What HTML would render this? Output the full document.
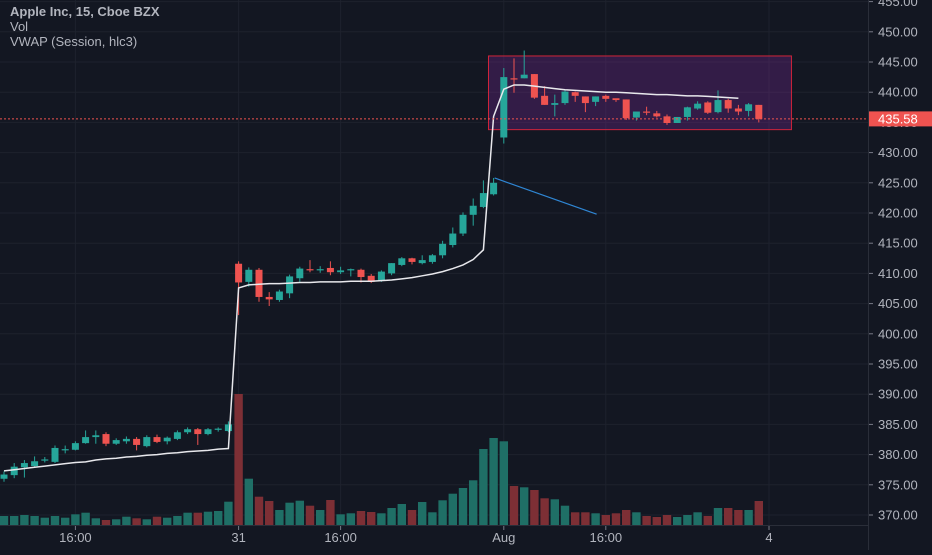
<!DOCTYPE html>
<html><head><meta charset="utf-8">
<style>
html,body{margin:0;padding:0;background:#131722;}
body{width:932px;height:550px;overflow:hidden;font-family:"Liberation Sans",sans-serif;}
svg text{font-family:"Liberation Sans",sans-serif;}
</style></head>
<body>
<svg id="chart" width="932" height="550" xmlns="http://www.w3.org/2000/svg">
<rect x="0" y="0" width="932" height="550" fill="#131722"/>
<g id="grid"></g>
<g id="box"></g>
<g id="vol"></g>
<g id="candles"></g>
<g id="vwap"></g>
<g id="trend"></g>
<g id="axes"></g>
<g>
<text x="10" y="16" fill="#b2b5be" font-size="13" font-weight="bold">Apple Inc, 15, Cboe BZX</text>
<text x="10" y="31" fill="#b2b5be" font-size="13">Vol</text>
<text x="10" y="46" fill="#b2b5be" font-size="13">VWAP (Session, hlc3)</text>
</g>
</svg>
<script>
const opens=[376.0,376.6,377.9,378.1,379.0,378.8,380.7,380.8,381.9,382.9,383.4,381.8,382.2,382.6,381.4,382.9,382.2,382.6,383.7,384.2,383.4,384.1,383.9,
411.6,408.6,410.6,406.1,405.6,406.7,409.2,410.7,410.5,410.9,410.2,410.5,410.6,409.6,408.8,410.0,411.4,412.5,411.7,411.9,413.0,414.7,416.6,419.7,421.0,423.1,
432.5,442.3,442.3,443.0,439.4,437.9,438.2,440.0,439.3,438.4,439.4,439.0,438.8,435.8,436.8,436.5,436.0,434.9,435.9,437.3,438.3,436.7,438.7,437.3,436.9,437.9];
const closes=[376.7,378.0,378.6,378.9,379.2,381.1,380.9,381.9,382.9,383.2,381.8,382.4,382.6,381.6,382.9,382.1,382.8,383.7,384.2,383.4,384.2,384.3,385.0,
408.5,410.6,406.1,405.7,407.0,409.5,410.8,410.5,410.7,410.2,410.5,410.7,409.4,408.6,410.3,411.7,412.5,411.9,412.2,413.0,414.9,416.6,419.7,421.2,423.3,425.0,
442.5,442.1,442.9,439.1,437.9,438.2,440.1,439.4,438.2,439.3,438.9,438.7,435.7,436.8,436.6,436.0,434.9,435.9,437.5,438.1,436.6,438.7,437.3,436.8,438.0,435.58];
const highs=[377.2,378.6,379.1,379.7,379.6,381.5,381.5,382.2,384.0,384.0,383.7,382.7,383.0,382.9,383.2,383.3,383.0,384.0,384.5,384.4,384.4,384.5,385.5,
412.0,411.0,410.9,406.9,407.3,409.8,411.1,412.2,411.2,412.0,411.1,410.8,410.8,409.9,410.5,411.7,412.7,412.6,413.0,413.2,415.4,417.6,420.1,422.4,425.4,425.8,
444.0,445.6,446.9,443.0,441.0,439.6,440.4,440.1,439.3,439.3,439.6,438.9,438.8,435.8,437.6,436.9,436.3,435.9,437.6,438.5,438.5,440.3,438.9,437.9,438.2,437.9];
const lows=[375.5,376.1,376.2,378.0,378.7,378.6,380.2,380.7,381.8,381.8,381.4,381.6,381.8,380.7,381.2,381.9,381.7,382.4,383.4,381.6,383.2,383.8,383.7,
403.1,407.8,405.3,404.6,405.3,405.9,408.6,410.2,410.1,409.7,409.9,409.5,408.5,408.4,408.6,409.7,411.2,411.5,411.5,411.6,412.5,414.3,416.2,417.9,420.8,422.9,
431.5,439.9,442.3,438.9,437.9,436.0,437.9,438.4,436.7,437.7,438.4,438.4,435.4,435.3,436.2,435.8,434.6,435.2,435.3,437.1,436.4,436.5,436.6,436.2,436.0,435.0];
const volumes=[90,90,100,90,73,90,73,107,123,67,50,57,83,67,57,83,73,90,123,123,133,140,233,
1310,463,283,240,150,223,243,193,150,250,107,117,140,130,117,170,210,150,230,127,247,313,370,447,760,870,
837,390,377,350,267,257,193,127,127,117,100,117,150,127,90,80,100,80,100,127,90,170,170,150,150,240];
const vwapVals=[377.3,377.5,377.7,377.9,378.1,378.3,378.5,378.7,378.8,379.1,379.3,379.4,379.6,379.7,379.9,380.0,380.2,380.3,380.5,380.6,380.7,380.9,381.0,
407.6,408.1,408.2,408.3,408.3,408.4,408.5,408.5,408.6,408.6,408.6,408.7,408.7,408.7,408.8,408.9,409.1,409.3,409.6,409.9,410.3,410.8,411.4,412.3,413.9,
436.0,440.5,441.2,441.2,441.0,440.8,440.6,440.4,440.3,440.2,440.1,440.0,440.0,439.9,439.8,439.7,439.6,439.6,439.5,439.4,439.4,439.3,439.2,439.1,439.0];
const priceTicks=[370,375,380,385,390,395,400,405,410,415,420,425,430,435,440,445,450,455];
const timeLabels=["16:00","31","16:00","Aug","16:00","4"];
const timeIdx=[7,23,33,49,59,75];
const lastPrice=435.58;
const boxPrices=[446.0,433.8];
const boxIdx=[47.5,77.2];
const trendPrices=[425.8,419.8];
const trendIdx=[48.1,58.1];

const NS="http://www.w3.org/2000/svg";
const xOf=i=>4+i*10.2;
const yOf=p=>515-(p-370)*6.04;
const volH=v=>v*0.1;
const BASE=525;
function mk(tag,attrs,parent){const e=document.createElementNS(NS,tag);for(const k in attrs)e.setAttribute(k,attrs[k]);parent.appendChild(e);return e;}
const G=id=>document.getElementById(id);

// grid
priceTicks.forEach(p=>{
 const l=mk('line',{x1:0,x2:868,y1:yOf(p),y2:yOf(p),stroke:'#1e222d','stroke-width':1},G('grid'));
 
 
});
timeIdx.forEach(i=>{
 const l=mk('line',{x1:xOf(i),x2:xOf(i),y1:0,y2:525,stroke:'#1e222d','stroke-width':1},G('grid'));
 
 
});

// box
{
 const x1=xOf(boxIdx[0]),x2=xOf(boxIdx[1]),y1=yOf(boxPrices[0]),y2=yOf(boxPrices[1]);
 const r=mk('rect',{x:x1,y:y1,width:x2-x1,height:y2-y1,fill:'rgba(120,40,150,0.32)',stroke:'#d0243a','stroke-width':1},G('box'));
 
 
}

// volume
volumes.forEach((v,i)=>{
 const up=closes[i]>=opens[i];
 const h=volH(v);
 const r=mk('rect',{x:xOf(i)-4.2,y:BASE-h,width:8.4,height:h,fill:up?'#1f6f66':'#7d2f35'},G('vol'));
 
 
});

// last price dashed line
{
 const l=mk('line',{x1:0,x2:868,y1:yOf(lastPrice),y2:yOf(lastPrice),stroke:'#ef5350','stroke-width':1,'stroke-dasharray':'2,2'},G('axes'));
 
 
}

// candles
opens.forEach((o,i)=>{
 const c=closes[i],up=c>=o,col=up?'#26a69a':'#ef5350';
 const g=mk('g',{},G('candles'));
 
 
 const x=xOf(i);
 mk('line',{x1:x,x2:x,y1:yOf(highs[i]),y2:yOf(lows[i]),stroke:col,'stroke-width':1},g);
 const yt=yOf(Math.max(o,c)),yb=yOf(Math.min(o,c));
 mk('rect',{x:x-3.5,y:yt,width:7,height:Math.max(1,yb-yt),fill:col},g);
});

// vwap
{
 const pts=vwapVals.map((v,i)=>xOf(i)+','+yOf(v)).join(' ');
 const p=mk('polyline',{points:pts,fill:'none',stroke:'#e8e8ec','stroke-width':1.5},G('vwap'));
 
 
}

// trend line
{
 const l=mk('line',{x1:xOf(trendIdx[0]),y1:yOf(trendPrices[0]),x2:xOf(trendIdx[1]),y2:yOf(trendPrices[1]),stroke:'#2f86d4','stroke-width':1.2},G('trend'));
 
 
}

// axes
{
 const a=mk('line',{x1:868.5,x2:868.5,y1:0,y2:550,stroke:'#2a2e39','stroke-width':1},G('axes'));
 
 
 const b=mk('line',{x1:0,x2:868,y1:525.5,y2:525.5,stroke:'#2a2e39','stroke-width':1},G('axes'));
 
 
}
priceTicks.forEach(p=>{
 const t=mk('line',{x1:869,x2:873,y1:yOf(p),y2:yOf(p),stroke:'#787b86'},G('axes'));
 
 
 const tx=mk('text',{x:878,y:yOf(p)+4.5,fill:'#b2b5be','font-size':13},G('axes'));
 
 
 tx.textContent=p.toFixed(2);
});
timeIdx.forEach((i,k)=>{
 const t=mk('line',{x1:xOf(i),x2:xOf(i),y1:526,y2:530,stroke:'#787b86'},G('axes'));
 
 
 const tx=mk('text',{x:xOf(i),y:542,fill:'#b2b5be','font-size':13,'text-anchor':'middle'},G('axes'));
 
 
 tx.textContent=timeLabels[k];
});
{
 const y=yOf(lastPrice);
 const r=mk('rect',{x:869,y:y-7.5,width:63,height:15,fill:'#ef5350'},G('axes'));
 
 
 const tx=mk('text',{x:878,y:y+4.5,fill:'#ffffff','font-size':13},G('axes'));
 
 
 tx.textContent=lastPrice.toFixed(2);
}
</script>
</body></html>
